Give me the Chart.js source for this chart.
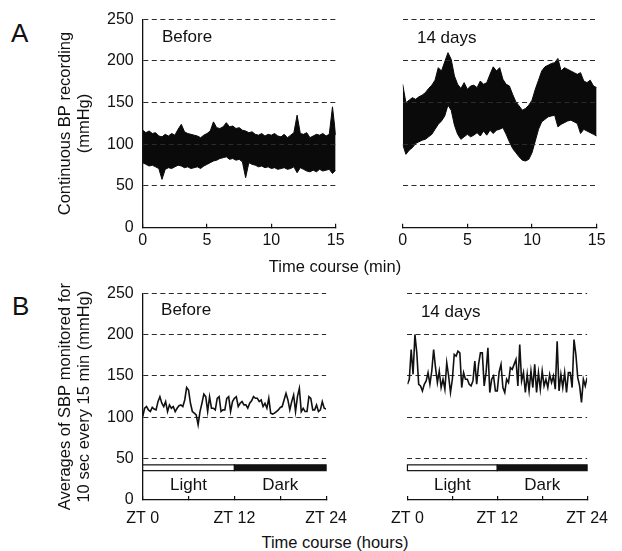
<!DOCTYPE html>
<html>
<head>
<meta charset="utf-8">
<script src="https://cdn.jsdelivr.net/npm/chart.js@4.4.1/dist/chart.umd.min.js"></script>
<style>
  body { margin: 0; background: #fff; }
  #wrap { position: relative; width: 622px; height: 551px; overflow: hidden;
          font-family: 'Liberation Sans', Arial, Helvetica, sans-serif; color: #111; }
  #wrap canvas, .txt { position: absolute; }
  .txt { line-height: 1; white-space: nowrap; }
  .letter { font-size: 26px; }
  .xtitle { font-size: 16.5px; width: 240px; text-align: center; }
</style>
</head>
<body>
<div id="wrap">
  <div class="txt letter" style="left:11px; top:20px">A</div>
  <div class="txt letter" style="left:12px; top:293px">B</div>
  <canvas id="aBefore" width="310" height="260" style="left:50px; top:0"></canvas>
  <canvas id="a14" width="243" height="260" style="left:378px; top:0"></canvas>
  <canvas id="bBefore" width="310" height="260" style="left:50px; top:270px"></canvas>
  <canvas id="b14" width="243" height="260" style="left:378px; top:270px"></canvas>
  <div class="txt xtitle" style="left:215px; top:258px">Time course (min)</div>
  <div class="txt xtitle" style="left:215px; top:534px">Time course (hours)</div>
</div>
<script>
// sampling grids (every 15 s in A, every 15 min in B)
const minutes = Array.from({ length: 61 }, (_, i) => i * 0.25);
const hours = Array.from({ length: 97 }, (_, i) => i * 0.25);

const minuteTickLabels = ['0', '5', '10', '15'];
const hourTickLabels = ['ZT 0', '', 'ZT 12', '', 'ZT 24'];
const panelNames = ['Before', '14 days'];

// A: envelope of the continuous BP trace (mmHg)
const beforeUpper = [117,114,116,113,114,110,109,112,110,113,111,118,124,115,113,112,111,110,108,111,
  113,116,127,120,119,121,126,121,122,119,120,117,116,114,115,112,111,113,110,112,
  111,113,110,109,112,108,111,114,135,113,112,114,108,110,112,111,113,110,112,145,111];
const beforeLower = [78,76,74,75,73,71,58,70,72,71,73,75,74,72,73,71,72,73,71,74,
  76,78,80,81,83,84,85,82,83,81,82,79,60,78,76,75,73,74,72,73,
  71,72,70,71,72,70,71,73,66,72,70,68,67,69,67,70,68,69,70,65,69];
const day14Upper = [172,150,153,156,154,157,159,162,167,171,177,192,188,199,210,202,182,172,167,174,
  166,170,171,168,176,172,174,184,193,188,192,178,172,170,160,151,146,141,143,147,
  153,166,177,188,193,195,197,198,203,188,192,190,188,186,184,186,176,174,177,170,168];
const day14Lower = [100,88,93,96,101,103,105,106,109,112,118,124,128,134,147,141,123,112,106,109,
  112,109,111,114,110,116,111,117,113,117,118,120,112,103,95,90,85,81,80,82,
  90,104,118,127,130,133,134,135,121,124,126,128,129,127,125,113,118,116,114,112,110];

// B: SBP averages every 15 min (mmHg)
const sbpBefore = [101,111,113,109,107,112,110,109,119,125,117,113,119,107,115,111,113,107,111,114,
  115,113,121,136,133,117,107,105,103,91,107,117,128,125,107,125,111,111,109,123,
  125,107,109,109,123,125,107,119,123,125,113,117,119,115,115,111,117,120,125,123,
  123,119,121,113,117,111,123,105,104,105,107,109,112,113,121,129,121,109,119,127,
  107,125,135,107,111,107,107,125,123,109,109,115,107,109,119,111,110];
const sbp14Days = [140,146,182,152,200,178,140,138,132,140,144,154,140,156,182,160,142,156,136,146,
  134,166,150,130,146,176,174,180,178,136,154,146,146,140,138,144,168,140,164,178,
  178,138,154,184,130,146,150,132,132,155,164,136,130,146,142,160,158,164,170,138,
  188,144,154,130,152,132,156,136,164,130,154,134,156,138,146,136,152,142,150,134,
  192,132,152,136,154,130,154,154,136,194,176,148,138,118,146,138,148];

// light/dark phases (ZT hours)
const phaseNames = ['Light', 'Dark'];
const phaseFrom = [0, 12];
const phaseTo = [12, 24];

const FONT = "'Liberation Sans', Arial, Helvetica, sans-serif";
Chart.defaults.font.family = FONT;
Chart.defaults.font.size = 16;
Chart.defaults.color = '#111';

// panel name + light/dark bar, placed through the chart scales
const annotate = {
  id: 'annotate',
  afterDraw(chart, args, o) {
    const { ctx, scales: { x, y } } = chart;
    ctx.save();
    ctx.font = '17px ' + FONT;
    ctx.fillStyle = '#111';
    ctx.textBaseline = 'alphabetic';
    ctx.fillText(o.name, x.getPixelForValue(o.nameAt[0]), y.getPixelForValue(o.nameAt[1]));
    if (o.phases) {
      const yTop = y.getPixelForValue(42.5), yBot = y.getPixelForValue(35.5);
      phaseNames.forEach((nm, i) => {
        const x0 = x.getPixelForValue(phaseFrom[i]), x1 = x.getPixelForValue(phaseTo[i]);
        ctx.fillStyle = i === 0 ? '#fff' : '#111';
        ctx.fillRect(x0, yTop, x1 - x0, yBot - yTop);
        ctx.strokeStyle = '#111';
        ctx.lineWidth = 1.2;
        ctx.strokeRect(x0, yTop, x1 - x0, yBot - yTop);
        ctx.fillStyle = '#111';
        ctx.textAlign = 'center';
        ctx.fillText(nm, (x0 + x1) / 2, y.getPixelForValue(12));
      });
    }
    ctx.restore();
  }
};

function yAxis(title, gridOnTop) {
  return {
    min: 0, max: 250,
    ticks: { stepSize: 50, padding: 9, display: !!title },
    afterFit: s => { s.width = title ? 92.7 : 0; },
    border: { display: !!title, color: '#111', width: 1.3, dash: [5, 3.5], z: 2 },
    grid: {
      drawTicks: false, lineWidth: 1.1, z: gridOnTop ? 1 : -1,
      color: c => c.tick.value === 0 ? 'rgba(0,0,0,0)' : '#2b2b2b'
    },
    title: title
      ? { display: true, text: title, font: { size: 16.5, lineHeight: 1.21 }, padding: { top: 5, bottom: 0 } }
      : { display: false }
  };
}

function xAxis(max, step, labels, pad, height) {
  return {
    type: 'linear', min: 0, max: max,
    ticks: { stepSize: step, padding: pad, maxRotation: 0, autoSkip: false, callback: (v, i) => labels[i] },
    afterFit: s => { s.height = height; },
    border: { display: true, color: '#111', width: 1.3, z: 2 },
    grid: { drawOnChartArea: false, tickLength: -4, color: '#111', lineWidth: 1.2 }
  };
}

function bandChart(id, upper, lower, yTitle, name, nameAt, padding) {
  return new Chart(document.getElementById(id), {
    type: 'line',
    data: {
      labels: minutes,
      datasets: [
        { data: upper, borderColor: '#0a0a0a', backgroundColor: '#0a0a0a', borderWidth: 1,
          pointRadius: 0, fill: '+1', tension: 0 },
        { data: lower, borderColor: '#0a0a0a', borderWidth: 1, pointRadius: 0, fill: false, tension: 0 }
      ]
    },
    options: {
      responsive: false, animation: false, events: [],
      layout: { padding: padding },
      plugins: { legend: { display: false }, tooltip: { enabled: false }, annotate: { name, nameAt } },
      scales: { x: xAxis(15, 5, minuteTickLabels, 7, 32.3), y: yAxis(yTitle, true) }
    },
    plugins: [annotate]
  });
}

function sbpChart(id, values, yTitle, name, nameAt, padding) {
  return new Chart(document.getElementById(id), {
    type: 'line',
    data: {
      labels: hours,
      datasets: [
        { data: values, borderColor: '#111', borderWidth: 1.6, pointRadius: 0, fill: false, tension: 0 }
      ]
    },
    options: {
      responsive: false, animation: false, events: [],
      layout: { padding: padding },
      plugins: { legend: { display: false }, tooltip: { enabled: false }, annotate: { name, nameAt, phases: true } },
      scales: { x: xAxis(24, 6, hourTickLabels, 13, 30), y: yAxis(yTitle, false) }
    },
    plugins: [annotate]
  });
}

bandChart('aBefore', beforeUpper, beforeLower, ['Continuous BP recording', '(mmHg)'],
  panelNames[0], [1.5, 223], { left: 0, top: 19.3, right: 24.3, bottom: 0 });
bandChart('a14', day14Upper, day14Lower, null,
  panelNames[1], [1.1, 221.5], { left: 24.7, top: 19.3, right: 24.3, bottom: 0 });
sbpChart('bBefore', sbpBefore, ['Averages of SBP monitored for', '10 sec every 15 min (mmHg)'],
  panelNames[0], [2.4, 224], { left: 0, top: 23.3, right: 24.3, bottom: 0 });
sbpChart('b14', sbp14Days, null,
  panelNames[1], [1.8, 221], { left: 24.7, top: 23.3, right: 24.3, bottom: 0 });
</script>
</body>
</html>
